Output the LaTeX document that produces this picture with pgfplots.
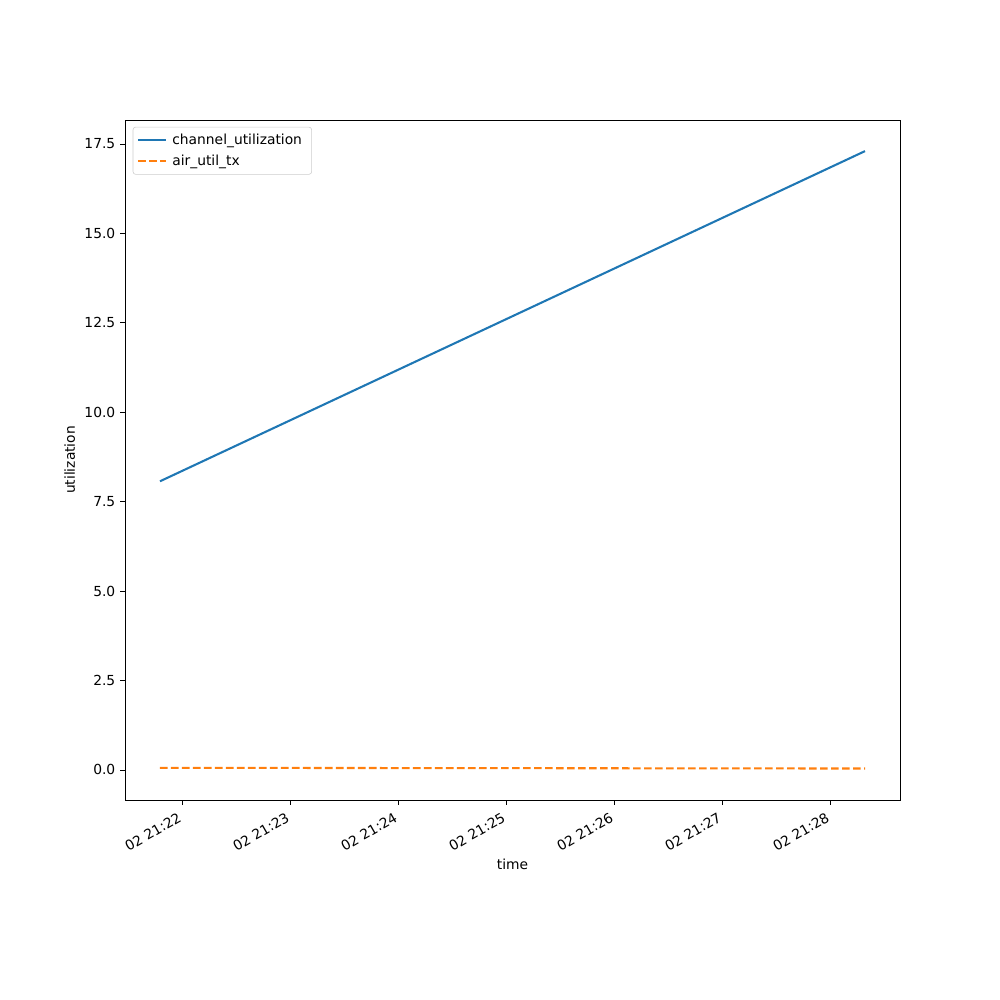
\documentclass[border=0pt]{standalone}
\usepackage{fontspec}
\setmainfont{DejaVu Sans}
\usepackage{pgfplots}
\pgfplotsset{compat=1.18}
\definecolor{tabblue}{HTML}{1F77B4}
\definecolor{taborange}{HTML}{FF7F0E}
\begin{document}
\fontsize{10pt}{12pt}\selectfont
\begin{tikzpicture}
\begin{axis}[
  scale only axis,
  width=7.75in, height=6.8in,
  xmin=-0.528, xmax=6.648,
  ymin=-0.84, ymax=18.17,
  clip=false,
  xtick={0,1,2,3,4,5,6},
  xticklabels={02 21:22,02 21:23,02 21:24,02 21:25,02 21:26,02 21:27,02 21:28},
  xticklabel style={rotate=30, anchor=north east, font=\fontsize{10pt}{12pt}\selectfont, xshift=-2pt, yshift=1pt},
  ytick={0,2.5,5,7.5,10,12.5,15,17.5},
  yticklabel style={/pgf/number format/fixed, /pgf/number format/fixed zerofill, /pgf/number format/precision=1, font=\fontsize{10pt}{12pt}\selectfont},
  /pgf/number format/assume math mode=true,
  tick align=outside,
  xtick pos=left, ytick pos=left,
  major tick length=3.5pt,
  tick style={black, line width=0.6pt},
  axis line style={line width=0.6pt},
  xlabel={time}, ylabel={utilization},
  label style={font=\fontsize{10pt}{12pt}\selectfont},
  xlabel style={yshift=3pt},
  legend style={at={(0.01,0.99)}, anchor=north west, draw=black!20, rounded corners=2pt, font=\fontsize{10pt}{12pt}\selectfont, row sep=2pt, inner sep=3pt,
    nodes={inner xsep=4pt}},
  legend cell align=left,
  legend image code/.code={\draw[#1] (0cm,0cm) -- (0.7cm,0cm);},
]
\addplot[tabblue, line width=1.5pt] coordinates {(-0.204,8.07) (6.324,17.30)};
\addlegendentry{channel\_utilization}
\addplot[taborange, line width=1.5pt, dash pattern=on 5.55pt off 2.4pt] coordinates {(-0.204,0.06) (6.324,0.04)};
\addlegendentry{air\_util\_tx}
\path (rel axis cs:-0.16129,-0.29412) rectangle (rel axis cs:1.12903,1.17647);
\end{axis}
\end{tikzpicture}
\end{document}
